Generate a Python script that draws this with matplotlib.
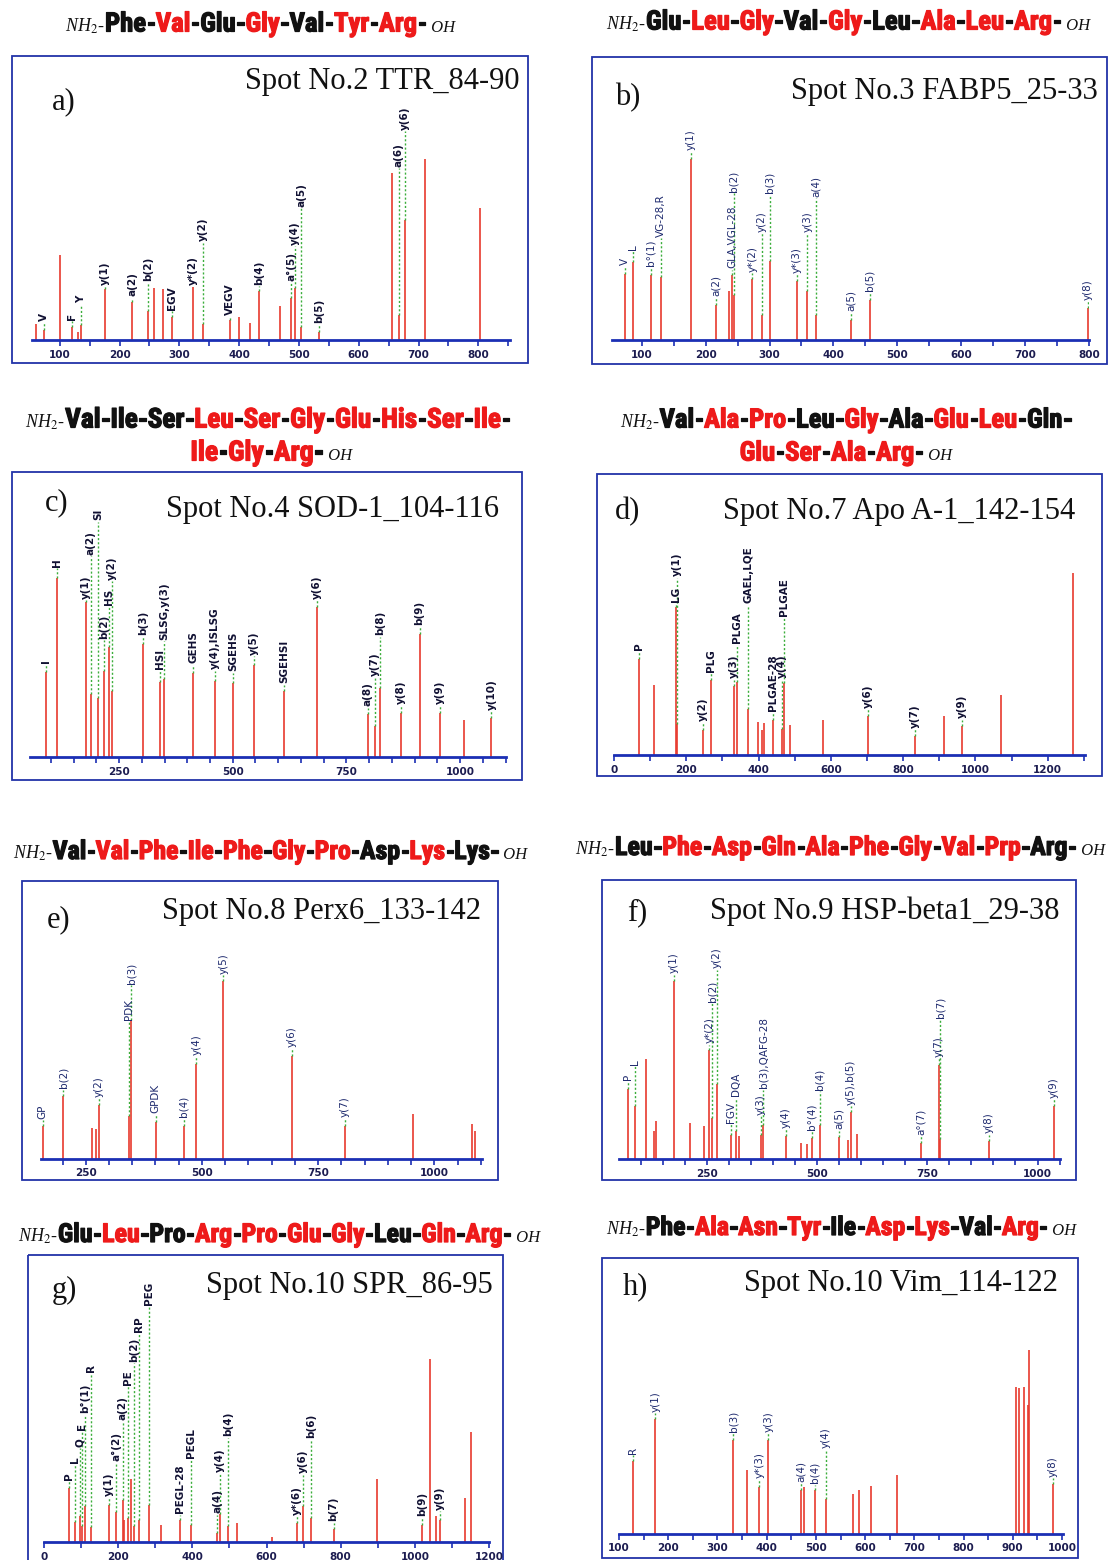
import os
import matplotlib.pyplot as plt
import matplotlib.font_manager as fm
import matplotlib.patheffects as pe
from matplotlib.offsetbox import TextArea, HPacker, AnnotationBbox
from matplotlib.patches import Rectangle
from matplotlib.ticker import MultipleLocator

plt.rcParams['mathtext.fontset'] = 'stix'

# ---------------- data ----------------
# peptide sequences, 1 = matched residue (red)
a_seq = ["Phe", "Val", "Glu", "Gly", "Val", "Tyr", "Arg"]
a_red = [0, 1, 0, 1, 0, 1, 1]
b_seq = ["Glu", "Leu", "Gly", "Val", "Gly", "Leu", "Ala", "Leu", "Arg"]
b_red = [0, 1, 1, 0, 1, 0, 1, 1, 1]
c_seq = ["Val", "Ile", "Ser", "Leu", "Ser", "Gly", "Glu", "His", "Ser", "Ile", "Ile", "Gly", "Arg"]
c_red = [0, 0, 0, 1, 1, 1, 1, 1, 1, 1, 1, 1, 1]
d_seq = ["Val", "Ala", "Pro", "Leu", "Gly", "Ala", "Glu", "Leu", "Gln", "Glu", "Ser", "Ala", "Arg"]
d_red = [0, 1, 1, 0, 1, 0, 1, 1, 0, 1, 1, 1, 1]
e_seq = ["Val", "Val", "Phe", "Ile", "Phe", "Gly", "Pro", "Asp", "Lys", "Lys"]
e_red = [0, 1, 1, 1, 1, 1, 1, 0, 1, 0]
f_seq = ["Leu", "Phe", "Asp", "Gln", "Ala", "Phe", "Gly", "Val", "Prp", "Arg"]
f_red = [0, 1, 1, 1, 1, 1, 1, 1, 1, 0]
g_seq = ["Glu", "Leu", "Pro", "Arg", "Pro", "Glu", "Gly", "Leu", "Gln", "Arg"]
g_red = [0, 1, 0, 1, 1, 1, 1, 0, 1, 1]
h_seq = ["Phe", "Ala", "Asn", "Tyr", "Ile", "Asp", "Lys", "Val", "Arg"]
h_red = [0, 1, 1, 1, 0, 1, 1, 0, 1]

titles = ["Spot No.2 TTR_84-90", "Spot No.3 FABP5_25-33", "Spot No.4 SOD-1_104-116",
          "Spot No.7 Apo A-1_142-154", "Spot No.8 Perx6_133-142", "Spot No.9 HSP-beta1_29-38",
          "Spot No.10 SPR_86-95", "Spot No.10 Vim_114-122"]

# spectra: m/z and relative intensity
a_mz = [61, 73, 100, 120, 130, 136, 175, 221, 248, 257, 273, 287, 323, 339, 385, 399, 418, 434,
        468, 487, 494, 504, 533, 655, 667, 678, 710, 803]
a_int = [6.8, 4.2, 36, 5.4, 3.3, 6.5, 21.7, 16, 12.5, 22, 21.7, 10, 22.5, 6.8, 8.4, 10, 7.4, 20.7,
         14.4, 18, 22, 5.4, 3.4, 71, 10.8, 51, 77, 56]
a_lab = [(73, "V", 7.9), (120, "F", 8.6), (136, "Y", 15.7), (175, "y(1)", 23.5), (221, "a(2)", 18.6),
         (248, "b(2)", 25), (287, "EGV", 12.9), (323, "y*(2)", 23.5), (339, "y(2)", 42),
         (385, "VEGV", 10.8), (434, "b(4)", 23.5), (487, "a°(5)", 25), (494, "y(4)", 40.5),
         (504, "a(5)", 56.8), (533, "b(5)", 7.2), (667, "a(6)", 73.8), (678, "y(6)", 89.4)]

b_mz = [74, 87, 114, 130, 177, 216, 236, 242, 244, 273, 288.5, 300.5, 343, 359, 372, 428, 457, 798]
b_int = [28, 33.4, 27.5, 27, 77, 15, 21, 27.8, 19.3, 26, 10.8, 33.7, 25, 20.7, 10.8, 8.6, 17, 13.6]
b_lab = [(74, "V", 32), (87, "L", 38.4), (114, "b°(1)", 31.3), (130, "VG-28,R", 44), (177, "y(1)", 80.9),
         (216, "a(2)", 18.6), (242, "GLA,VGL-28", 30.6), (244, "b(2)", 63), (273, "y*(2)", 29),
         (288.5, "y(2)", 46), (300.5, "b(3)", 62.5), (343, "y*(3)", 28.5), (359, "y(3)", 46),
         (372, "a(4)", 61), (428, "a(5)", 12.2), (457, "b(5)", 20.7), (798, "y(8)", 17)]

c_mz = [89, 113, 177, 187.5, 203.7, 216, 228.7, 234.6, 303, 340, 348.5, 413, 461, 500, 547, 613,
        684.6, 797, 812, 824, 870, 911, 955, 1009, 1069]
c_int = [36, 76, 66, 27, 25, 36.7, 46.6, 28, 48, 32, 33.4, 35.8, 32.4, 31.3, 39, 28,
         64, 18.1, 13, 29.2, 18.6, 52.4, 18.6, 15.7, 16.4]
c_lab = [(89, "I", 40), (113, "H", 81), (177, "y(1)", 67.4), (187.5, "a(2)", 86), (203.7, "SI", 100.8),
         (216, "b(2)", 50.4), (228.7, "HS", 64.6), (234.6, "y(2)", 75.4), (303, "b(3)", 51.8),
         (340, "HSI", 37.4), (348.5, "SLSG,y(3)", 49.9), (413, "GEHS", 39.8), (461, "y(4),ISLSG", 37.4),
         (500, "SGEHS", 36.4), (547, "y(5)", 43.5), (613, "SGEHSI", 31.4), (684.6, "y(6)", 67.4),
         (797, "a(8)", 21.5), (812, "y(7)", 34.6), (824, "b(8)", 51.8), (870, "y(8)", 22.4),
         (911, "b(9)", 56.2), (955, "y(9)", 22.4), (1069, "y(10)", 20)]

d_mz = [70, 111, 172, 175, 245.5, 269.5, 332, 341.5, 372, 397, 410, 415, 440, 465, 470, 487,
        578.7, 703, 833, 912, 962, 1070.6, 1271]
d_int = [41, 30, 63, 13, 10.8, 32, 29.5, 30.9, 19.5, 13.9, 10.8, 13.6, 14.7, 11, 30.6, 12.6,
         15, 16.4, 7.9, 16.4, 12.2, 25.6, 77.3]
d_lab = [(70, "P", 44.8), (172, "LG", 65), (175, "y(1)", 76), (245.5, "y(2)", 14.3), (269.5, "PLG", 35.5),
         (332, "y(3)", 32.7), (341.5, "PLGA", 47.6), (372, "GAEL,LQE", 64.6), (440, "PLGAE-28", 18.6),
         (465, "y(4)", 32.7), (470, "PLGAE", 59), (703, "y(6)", 20), (833, "y(7)", 11.5),
         (962, "y(9)", 15.7)]

e_mz = [157, 201, 263, 272, 278, 343, 348, 400.5, 461, 488, 546, 693, 807, 954, 1081.5, 1088]
e_int = [13.9, 26.6, 12.9, 12.5, 23, 18.1, 59, 15.6, 13.9, 40.5, 75.5, 43.8, 14, 19, 14.7, 11.9]
e_lab = [(157, "GP", 17), (201, "b(2)", 30), (278, "y(2)", 26.3), (343, "PDK", 59), (348, "b(3)", 74.5),
         (400.5, "GPDK", 19.3), (461, "b(4)", 17.6), (488, "y(4)", 44), (546, "y(5)", 78.8),
         (693, "y(6)", 47.6), (807, "y(7)", 17.6)]

f_mz = [71, 86.7, 111.6, 129.8, 135, 175, 212, 244, 256, 262, 273.4, 304.4, 316.5, 322.6, 372.5,
        377.8, 429, 464, 478, 488, 506, 549, 570.5, 576.6, 591.7, 735, 776, 780, 889.6, 1037.8]
f_int = [30, 22.4, 42.5, 11.8, 16.3, 75.8, 15.3, 13.9, 46.5, 17.4, 32, 10.3, 11.9, 9.9, 10.3,
         14.3, 9.9, 7, 6.4, 8.9, 14.3, 9.3, 8.2, 20, 10.6, 7, 40, 8.5, 7.8, 22.7]
f_lab = [(71, "P", 33.7), (86.7, "L", 40), (175, "y(1)", 79), (256, "y*(2)", 49.3), (262, "b(2)", 67),
         (273.4, "y(2)", 81.2), (304.4, "FGV", 15.3), (316.5, "DQA", 26.6), (372.5, "y(3)", 18.8),
         (377.8, "b(3),QAFG-28", 30), (429, "y(4)", 13.2), (488, "b°(4)", 12.5), (506, "b(4)", 29.5),
         (549, "a(5)", 12.7), (576.6, "y(5),b(5)", 23), (735, "a°(7)", 10.3), (776, "y(7)", 43.6),
         (780, "b(7)", 60), (889.6, "y(8)", 11), (1037.8, "y(9)", 26)]

g_mz = [68, 84.6, 98, 102.5, 110.6, 127.7, 174.5, 195, 212, 215, 226.7, 235.7, 243, 255.5, 284,
        315.7, 368, 396.7, 467.8, 474, 495.6, 521.7, 613.5, 681, 699, 721, 780.8, 898.6, 1019,
        1040, 1056, 1068, 1135, 1151]
g_int = [23, 8.4, 10.9, 6.7, 15.2, 6.2, 15.9, 12.6, 18, 9.2, 10.2, 26.8, 6.7, 9.2, 15.6,
         7.4, 9.2, 7.2, 3.8, 11.9, 6.9, 8, 2.1, 8, 15.2, 10.2, 5.5, 26.8, 7.2,
         77.8, 10.9, 9.5, 18.7, 46.7]
g_lab = [(68, "P", 26.5), (84.6, "L", 33.6), (98, "Q", 40.6), (102.5, "E", 47.7), (110.6, "b°(1)", 54.8),
         (127.7, "R", 72.5), (174.5, "y(1)", 19.4), (195, "a°(2)", 34.3), (212, "a(2)", 52),
         (226.7, "PE", 66.9), (243, "b(2)", 76.8), (255.5, "RP", 89.5), (284, "PEG", 100.8),
         (368, "PEGL-28", 12.3), (396.7, "PEGL", 35.7), (467.8, "a(4)", 12.3), (474, "y(4)", 30),
         (495.6, "b(4)", 44.9), (681, "y*(6)", 11.6), (699, "y(6)", 29.3), (721, "b(6)", 44.2),
         (780.8, "b(7)", 8.8), (1019, "b(9)", 10.9), (1068, "y(9)", 13.7)]

h_mz = [127.8, 174, 332.5, 361, 385.4, 403.7, 469.5, 475, 498, 519.7, 576, 588, 612.5, 664.7,
        906.8, 913.6, 922.4, 930.5, 933.2, 981.4]
h_int = [31, 48.7, 40, 27, 20, 40, 18.6, 20, 18.4, 14.7, 17, 18.4, 20.4, 25,
         62.5, 61.8, 62.5, 54.7, 78, 21]
h_lab = [(127.8, "R", 34), (174, "y(1)", 51.8), (332.5, "b(3)", 43.3), (385.4, "y*(3)", 23.5),
         (403.7, "y(3)", 43.3), (469.5, "a(4)", 22), (498, "b(4)", 21.4), (519.7, "y(4)", 36.3),
         (981.4, "y(8)", 24.2)]

# ---------------- layout (pixels) ----------------
W, H = 1110, 1560
RED = "#ee1a1a"
INK = "#111111"
BLUE = "#1b2fb4"
PEAK = "#e8392e"
DOTS = "#3cae3c"


def narrow_bold():
    # heavy condensed face for the peptide headers, whatever is installed
    prefs = ["notosans-extracondensedblack", "notosans-extracondensedbold", "liberationsansnarrow-bold.",
             "notosans-condensedblack", "notosans-condensedbold", "robotocondensed-bold.",
             "dejavusanscondensed-bold.", "opensans-condensedbold", "opensans_condensed-bold"]
    files = [f.fname for f in fm.fontManager.ttflist]
    for key in prefs:
        for fn in files:
            if os.path.basename(fn).lower().startswith(key):
                return fm.FontProperties(fname=fn)
    for fn in files:
        base = os.path.basename(fn).lower()
        if ("condensed" in base or "narrow" in base) and "bold" in base \
                and "italic" not in base and "oblique" not in base:
            return fm.FontProperties(fname=fn)
    return fm.FontProperties(family="DejaVu Sans", weight="bold")


SEQ_FP = narrow_bold()

panels = [
    dict(mz=a_mz, inten=a_int, lab=a_lab, box=(12, 56, 528, 363), ax=(31.7, 510, 340),
         xlim=(53, 853), major=100, minor=50, letter=("a)", 52, 102), title=(titles[0], 382, 82), bold=True),
    dict(mz=b_mz, inten=b_int, lab=b_lab, box=(592, 57, 1107, 364), ax=(611.7, 1089, 340),
         xlim=(53, 800), major=100, minor=50, letter=("b)", 615, 98), title=(titles[1], 944, 91), bold=False),
    dict(mz=c_mz, inten=c_int, lab=c_lab, box=(12, 472, 522, 780), ax=(30, 506, 757),
         xlim=(54, 1101), major=250, minor=50, letter=("c)", 45, 503), title=(titles[2], 333, 510), bold=True),
    dict(mz=d_mz, inten=d_int, lab=d_lab, box=(597, 474, 1102, 776), ax=(614, 1085, 755),
         xlim=(0, 1303), major=200, minor=100, letter=("d)", 615, 512), title=(titles[3], 899, 511), bold=True),
    dict(mz=e_mz, inten=e_int, lab=e_lab, box=(22, 881, 498, 1180), ax=(40.7, 481.7, 1158.7),
         xlim=(153, 1102), major=250, minor=50, letter=("e)", 47, 920), title=(titles[4], 321, 911), bold=False),
    dict(mz=f_mz, inten=f_int, lab=f_lab, box=(602, 880, 1076, 1180), ax=(619, 1060, 1159),
         xlim=(51, 1051), major=250, minor=50, letter=("f)", 627, 913), title=(titles[5], 885, 911), bold=False),
    dict(mz=g_mz, inten=g_int, lab=g_lab, box=(28, 1255, 503, 1580), ax=(44, 489, 1542),
         xlim=(0, 1200), major=200, minor=100, letter=("g)", 52, 1290), title=(titles[6], 349, 1286), bold=True),
    dict(mz=h_mz, inten=h_int, lab=h_lab, box=(602, 1258, 1078, 1558), ax=(619, 1063, 1533.7),
         xlim=(100, 1002), major=100, minor=50, letter=("h)", 623, 1287), title=(titles[7], 901, 1283), bold=False),
]

# residues, colours, centre x, centre y, starts with NH2, ends with OH, width in the reference
headers = [
    (a_seq, a_red, 260, 24, True, True, 390),
    (b_seq, b_red, 848, 22, True, True, 483),
    (c_seq[:10], c_red[:10], 268, 420, True, False, 487),
    (c_seq[10:], c_red[10:], 271, 453, False, True, 162),
    (d_seq[:9], d_red[:9], 846, 420, True, False, 452),
    (d_seq[9:], d_red[9:], 846, 453, False, True, 212),
    (e_seq, e_red, 270, 852, True, True, 516),
    (f_seq, f_red, 840, 848, True, True, 530),
    (g_seq, g_red, 279, 1235, True, True, 522),
    (h_seq, h_red, 841, 1228, True, True, 472),
]

fig = plt.figure(figsize=(W / 100, H / 100), dpi=100)
bg = fig.add_axes([0, 0, 1, 1])
bg.set_xlim(0, W)
bg.set_ylim(H, 0)
bg.axis("off")


def make_header(residues, red, x, y, first, last, size):
    kids = []
    if first:
        kids.append(TextArea("NH$_2$-", textprops=dict(family="Liberation Serif", style="italic",
                                                       size=13, color=INK)))
    for res, r in zip(residues, red):
        col = RED if r else INK
        kids.append(TextArea(res, textprops=dict(fontproperties=SEQ_FP, size=size, color=col,
                                                 path_effects=[pe.withStroke(linewidth=0.9, foreground=col)])))
        kids.append(TextArea("-", textprops=dict(fontproperties=SEQ_FP, size=size, color=INK,
                                                 path_effects=[pe.withStroke(linewidth=0.9, foreground=INK)])))
    if last:
        kids.append(TextArea(" OH", textprops=dict(family="Liberation Serif", style="italic",
                                                   size=12, color=INK)))
    box = HPacker(children=kids, align="baseline", pad=0, sep=0)
    ab = AnnotationBbox(box, (x, y), xycoords="data", frameon=False,
                        box_alignment=(0.5, 0.5), pad=0)
    bg.add_artist(ab)
    return ab


# fit each header to its width in the reference
sizes = [18.0] * len(headers)
for it in range(3):
    boxes = [make_header(*hd[:6], size=s) for hd, s in zip(headers, sizes)]
    fig.canvas.draw()
    rend = fig.canvas.get_renderer()
    widths = [ab.get_window_extent(rend).width for ab in boxes]
    if it < 2:
        sizes = [s * hd[6] / w for s, hd, w in zip(sizes, headers, widths)]
        for ab in boxes:
            ab.remove()

AXH = 235  # height of the intensity axis in pixels

for p in panels:
    l, t, r, b = p["box"]
    bg.add_patch(Rectangle((l, t), r - l, b - t, fill=False, ec="#2233a8", lw=1.3))
    txt, lx, ly = p["letter"]
    bg.text(lx, ly, txt, family="Liberation Serif", fontsize=22, ha="left", va="center", color=INK)
    ttl, tx, ty = p["title"]
    bg.text(tx, ty, ttl, family="Liberation Serif", fontsize=22, ha="center", va="center", color=INK)

    x0, x1, yb = p["ax"]
    ax = fig.add_axes([x0 / W, 1 - yb / H, (x1 - x0) / W, AXH / H])
    ax.patch.set_visible(False)
    for s in ["top", "left", "right"]:
        ax.spines[s].set_visible(False)
    ax.spines["bottom"].set_color(BLUE)
    ax.spines["bottom"].set_linewidth(2.0)
    ax.set_xlim(*p["xlim"])
    ax.set_ylim(0, 100)
    ax.set_yticks([])
    ax.xaxis.set_major_locator(MultipleLocator(p["major"]))
    ax.xaxis.set_minor_locator(MultipleLocator(p["minor"]))
    ax.tick_params(axis="x", which="both", direction="out", length=4, width=1.2, color=BLUE,
                   labelsize=7.5, labelcolor="#1c1c50", pad=3)
    for lbl in ax.get_xticklabels():
        lbl.set_fontweight("bold")

    ax.vlines(p["mz"], 0, p["inten"], colors=PEAK, lw=1.2)
    lookup = dict(zip(p["mz"], p["inten"]))
    wt = "bold" if p["bold"] else "normal"
    tc = "#111133" if p["bold"] else "#1e2a6e"
    for m, name, at in p["lab"]:
        top = lookup[m]
        if at > top + 1:
            ax.vlines(m, top, at - 0.6, colors=DOTS, lw=1.0, linestyles=(0, (1.5, 1.5)))
        ax.text(m, at, name, rotation=90, ha="center", va="bottom", fontsize=7.5,
                fontweight=wt, color=tc, clip_on=False)

fig.savefig("out.png", dpi=100)
